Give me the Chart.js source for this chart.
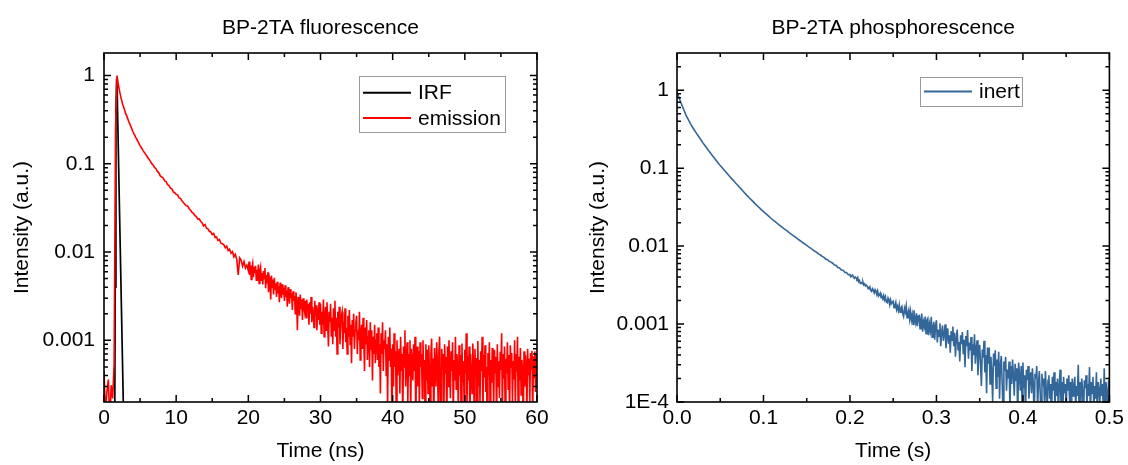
<!DOCTYPE html>
<html>
<head>
<meta charset="utf-8">
<script src="https://cdn.jsdelivr.net/npm/chart.js@4.4.1/dist/chart.umd.min.js"></script>
<style>
html,body{margin:0;padding:0;background:#fff;overflow:hidden;width:1128px;height:465px}
canvas{position:absolute;top:0}
#fluo{left:0}
#phos{left:564px}
</style>
</head>
<body>
<canvas id="fluo" width="564" height="465"></canvas>
<canvas id="phos" width="564" height="465"></canvas>
<script>
// ---------------- DATA ----------------
// Fluorescence decay "emission" (left panel).
// Part 1: 0 - 19.8 ns, one value per 0.2 ns channel
const emissionEarlyStart = 0, emissionEarlyWidth = 0.2;   // ns
const emissionEarly = [
  4.5e-4, 1.5e-4, 2.6e-4, 3.6e-4, 1.2e-4, 3.1e-4, 2.2e-4, 5.3e-4, 0.25, 1.0,            // 0.0
  0.78, 0.64, 0.54, 0.47, 0.42, 0.37, 0.34, 0.305, 0.28, 0.255,                          // 2.0
  0.232, 0.215, 0.199, 0.186, 0.173, 0.161, 0.151, 0.142, 0.134, 0.127,                  // 4.0
  0.120, 0.113, 0.108, 0.101, 0.097, 0.091, 0.088, 0.082, 0.079, 0.073,                  // 6.0
  0.071, 0.069, 0.064, 0.063, 0.058, 0.057, 0.053, 0.052, 0.048, 0.047,                  // 8.0
  0.045, 0.0445, 0.041, 0.0405, 0.038, 0.0365, 0.0348, 0.0335, 0.0332, 0.031,            // 10
  0.0298, 0.0282, 0.0275, 0.0259, 0.0252, 0.0236, 0.0238, 0.0222, 0.0214, 0.0198,        // 12
  0.0205, 0.0186, 0.0183, 0.0172, 0.0169, 0.0158, 0.0162, 0.0146, 0.0148, 0.0135,        // 14
  0.0139, 0.0126, 0.0124, 0.0121, 0.0112, 0.0117, 0.0104, 0.0108, 0.0097, 0.0101,        // 16
  0.0088, 0.0094, 0.0082, 0.0055, 0.0086, 0.0081, 0.0069, 0.0078, 0.0066, 0.0071         // 18
];
// Part 2: 20 - 60 ns, one value per 0.1 ns channel
const emissionLateStart = 20, emissionLateWidth = 0.1;    // ns
const emissionLate = [
  0.0062, 0.0078, 0.0055, 0.0071, 0.0049, 0.0066, 0.0074, 0.0052, 0.0068, 0.0058,              // 20
  0.0070, 0.0048, 0.0063, 0.0055, 0.0072, 0.0044, 0.0060, 0.0067, 0.0047, 0.0058,              // 21
  0.0043, 0.0061, 0.0050, 0.0066, 0.0039, 0.0055, 0.0045, 0.0059, 0.0035, 0.0052,              // 22
  0.0047, 0.0029, 0.0054, 0.0040, 0.0049, 0.0033, 0.0051, 0.0038, 0.0044, 0.0031,              // 23
  0.0046, 0.0034, 0.0041, 0.0027, 0.0045, 0.0036, 0.0030, 0.0043, 0.0033, 0.0039,              // 24
  0.0028, 0.0042, 0.0031, 0.0037, 0.0024, 0.0040, 0.0033, 0.0026, 0.0038, 0.0030,              // 25
  0.0034, 0.0022, 0.0036, 0.0028, 0.0032, 0.0020, 0.0035, 0.0026, 0.0013, 0.0031,              // 26
  0.0027, 0.0019, 0.0033, 0.0023, 0.0029, 0.0017, 0.0030, 0.0024, 0.0021, 0.0028,              // 27
  0.0018, 0.0029, 0.0022, 0.0026, 0.0015, 0.0027, 0.0020, 0.0031, 0.0016, 0.0024,              // 28
  0.0021, 0.0014, 0.0028, 0.0019, 0.0025, 0.0013, 0.0023, 0.0017, 0.0027, 0.0015,              // 29
  0.0026, 0.0012, 0.0021, 0.0015, 0.0029, 0.0011, 0.0019, 0.0024, 0.0013, 0.0027,              // 30
  0.0015, 0.00085, 0.0021, 0.0016, 0.0026, 0.0011, 0.0018, 0.0009, 0.0023, 0.0013,             // 31
  0.0028, 0.0011, 0.0018, 0.0007, 0.0021, 0.0014, 0.0024, 0.0009, 0.0015, 0.0019,              // 32
  0.0021, 0.0008, 0.0016, 0.0012, 0.0023, 0.00095, 0.0014, 0.0007, 0.0019, 0.0011,             // 33
  0.0022, 0.0009, 0.0015, 0.00055, 0.0017, 0.0011, 0.0020, 0.0008, 0.0013, 0.0016,             // 34
  0.0019, 0.0007, 0.0013, 0.0010, 0.0021, 0.0006, 0.0012, 0.0015, 0.0008, 0.0018,              // 35
  0.0010, 0.00045, 0.0014, 0.0009, 0.0017, 0.0006, 0.0011, 0.0013, 0.0005, 0.0016,             // 36
  0.0008, 0.0013, 0.00035, 0.0011, 0.0007, 0.0015, 0.00055, 0.0010, 0.0012, 0.0006,            // 37
  0.0014, 0.0005, 0.0009, 0.00025, 0.0012, 0.0007, 0.0016, 0.00045, 0.0010, 0.0008,            // 38
  0.0013, 0.0004, 0.0009, 0.00018, 0.0011, 0.0006, 0.0014, 0.0005, 0.0008, 0.00012,            // 39
  0.0009, 0.0003, 0.0012, 0.0005, 0.00075, 0.00015, 0.001, 0.0004, 0.00065, 0.0008,            // 40
  0.00025, 0.0011, 0.00045, 0.0007, 0.00012, 0.00085, 0.0005, 0.0013, 0.0003, 0.0006,          // 41
  0.00095, 0.0002, 0.0007, 0.0004, 0.001, 0.00014, 0.0008, 0.00055, 0.00035, 0.0009,           // 42
  0.00045, 0.0011, 0.0001, 0.0006, 0.00085, 0.0003, 0.00075, 0.00018, 0.00095, 0.0005,         // 43
  0.0007, 0.00022, 0.001, 0.0004, 0.0006, 0.00011, 0.0009, 0.00035, 0.00078, 0.00025,          // 44
  0.00088, 0.00045, 0.00015, 0.0007, 0.00105, 0.0003, 0.00062, 0.0001, 0.00082, 0.0005,        // 45
  0.0003, 0.00095, 0.00055, 0.0002, 0.00072, 0.0011, 0.00038, 0.00013, 0.0008, 0.00048,        // 46
  0.0007, 0.00016, 0.0009, 0.00042, 0.00065, 0.0001, 0.00085, 0.0003, 0.001, 0.00052,          // 47
  0.00022, 0.00075, 0.00045, 0.00095, 0.00012, 0.0006, 0.00035, 0.0011, 0.00028, 0.0007,       // 48
  0.0005, 0.00015, 0.00088, 0.0004, 0.00068, 0.0001, 0.00092, 0.00033, 0.00058, 0.0002,        // 49
  0.00078, 0.00042, 0.0012, 0.00018, 0.00066, 0.00035, 0.00085, 0.0001, 0.0007, 0.00048,       // 50
  0.00025, 0.00092, 0.00055, 0.00014, 0.0008, 0.0004, 0.00063, 0.0001, 0.00098, 0.0003,        // 51
  0.0006, 0.0002, 0.00075, 0.00045, 0.0011, 0.00012, 0.00068, 0.00038, 0.00088, 0.00026,       // 52
  0.0005, 0.0001, 0.00072, 0.0004, 0.00095, 0.00016, 0.0006, 0.00033, 0.00082, 0.00048,        // 53
  0.00018, 0.00078, 0.00043, 0.00065, 0.0001, 0.0009, 0.0003, 0.00058, 0.00022, 0.00074,       // 54
  0.00046, 0.0012, 0.00015, 0.0007, 0.00037, 0.00085, 0.0001, 0.00062, 0.00042, 0.00095,       // 55
  0.00028, 0.00068, 0.00012, 0.00088, 0.0005, 0.00072, 0.0002, 0.00058, 0.00036, 0.001,        // 56
  0.00016, 0.0007, 0.00044, 0.0011, 0.00011, 0.00065, 0.00035, 0.00082, 0.00024, 0.0006,       // 57
  0.00045, 0.0001, 0.00075, 0.0003, 0.00068, 0.00052, 0.00014, 0.0008, 0.0004, 0.00062,        // 58
  0.0002, 0.00072, 0.00047, 0.00076, 0.00012, 0.00066, 0.00038, 0.00075, 0.00026, 0.0007,      // 59
  0.00055                                                                                    // 60
];
// Instrument response function (left panel)
const irfTime  = [1.45, 1.55, 1.65, 1.75, 1.80, 2.00, 2.20, 2.40, 2.60, 2.80];
const irfValue = [1e-5, 0.004, 0.35, 0.92, 0.85, 0.125, 0.018, 0.0027, 0.0004, 0.00006];

// Phosphorescence decay "inert" (right panel).
// Part 1: 0 - 0.198 s, one value per 2 ms channel
const inertEarlyStart = 0, inertEarlyWidth = 0.002;    // s
const inertEarly = [
  0.955, 0.822, 0.716, 0.631, 0.556, 0.490, 0.442, 0.400, 0.365, 0.335,                         // 0.00
  0.309, 0.285, 0.264, 0.245, 0.228, 0.211, 0.197, 0.184, 0.171, 0.160,                         // 0.02
  0.150, 0.140, 0.131, 0.123, 0.115, 0.108, 0.102, 0.0962, 0.0906, 0.0853,                      // 0.04
  0.0804, 0.0759, 0.0718, 0.0679, 0.0641, 0.0607, 0.0574, 0.0542, 0.0512, 0.0484,               // 0.06
  0.0457, 0.0434, 0.0411, 0.0391, 0.0372, 0.0353, 0.0336, 0.0320, 0.0305, 0.0290,               // 0.08
  0.0277, 0.0264, 0.0253, 0.0242, 0.0231, 0.0221, 0.0212, 0.0204, 0.0195, 0.0187,               // 0.10
  0.0180, 0.0173, 0.0166, 0.0160, 0.0154, 0.0148, 0.01426, 0.01371, 0.01321, 0.01271,           // 0.12
  0.01225, 0.01180, 0.01138, 0.01096, 0.01057, 0.01019, 0.00982, 0.00948, 0.00914, 0.00883,     // 0.14
  0.00851, 0.00826, 0.00789, 0.00770, 0.00733, 0.00718, 0.00684, 0.00669, 0.00636, 0.00623,     // 0.16
  0.00603, 0.00570, 0.00563, 0.00530, 0.00525, 0.00494, 0.00490, 0.00461, 0.00457, 0.00430      // 0.18
];
// Part 2: 0.2 - 0.5 s, one value per 1 ms channel
const inertLateStart = 0.2, inertLateWidth = 0.001;    // s
const inertLate = [
  0.00430, 0.00405, 0.00418, 0.00425, 0.00398, 0.00387, 0.00402, 0.00392, 0.00377, 0.00395,    // 0.20
  0.00350, 0.00362, 0.00333, 0.00340, 0.00329, 0.00346, 0.00318, 0.00327, 0.00309, 0.00316,    // 0.21
  0.00306, 0.00284, 0.00293, 0.00301, 0.00270, 0.00262, 0.00284, 0.00272, 0.00251, 0.00275,    // 0.22
  0.00258, 0.00239, 0.00265, 0.00228, 0.00235, 0.00249, 0.00218, 0.00226, 0.00210, 0.00232,    // 0.23
  0.00205, 0.00224, 0.00193, 0.00188, 0.00215, 0.00197, 0.00176, 0.00204, 0.00183, 0.00191,    // 0.24
  0.00196, 0.00162, 0.00172, 0.00190, 0.00153, 0.00168, 0.00149, 0.00176, 0.00142, 0.00160,    // 0.25
  0.00168, 0.00136, 0.00125, 0.00159, 0.00143, 0.00170, 0.00121, 0.00138, 0.00152, 0.00117,    // 0.26
  0.00145, 0.00112, 0.00131, 0.00099, 0.00150, 0.00120, 0.00104, 0.00137, 0.00094, 0.00126,    // 0.27
  0.00128, 0.00087, 0.00115, 0.00136, 0.00080, 0.00106, 0.00093, 0.00125, 0.00075, 0.00112,    // 0.28
  0.00118, 0.00072, 0.00099, 0.00083, 0.00124, 0.00068, 0.00090, 0.00107, 0.00063, 0.00095,    // 0.29
  0.00112, 0.00058, 0.00085, 0.00070, 0.00102, 0.00052, 0.00078, 0.00096, 0.00061, 0.00074,    // 0.30
  0.00099, 0.00049, 0.00067, 0.00088, 0.00056, 0.00072, 0.00043, 0.00081, 0.00062, 0.00093,    // 0.31
  0.00052, 0.00077, 0.00038, 0.00065, 0.00085, 0.00047, 0.00059, 0.00033, 0.00072, 0.00055,    // 0.32
  0.00079, 0.00041, 0.00063, 0.00028, 0.00070, 0.00052, 0.00084, 0.00036, 0.00058, 0.00046,    // 0.33
  0.00068, 0.00025, 0.00055, 0.00040, 0.00074, 0.00031, 0.00049, 0.00062, 0.00022, 0.00045,    // 0.34
  0.00054, 0.00030, 0.00016, 0.00047, 0.00037, 0.00061, 0.00024, 0.00040, 0.00013, 0.00050,    // 0.35
  0.00031, 0.00050, 0.00017, 0.00038, 0.00024, 0.00010, 0.00042, 0.00029, 0.00046, 0.00015,    // 0.36
  0.00035, 0.00021, 0.00044, 0.00011, 0.00030, 0.00039, 0.00018, 0.00007, 0.00033, 0.00025,    // 0.37
  0.00038, 0.00014, 0.00026, 0.00020, 0.00033, 0.00008, 0.00029, 0.00017, 0.00035, 0.00022,    // 0.38
  0.00012, 0.00031, 0.00019, 0.00027, 0.00006, 0.00032, 0.00023, 0.00014, 0.00029, 0.00010,    // 0.39
  0.00032, 0.00015, 0.00022, 0.00007, 0.00026, 0.00019, 0.00029, 0.00011, 0.00020, 0.00024,    // 0.40
  0.00013, 0.00027, 0.00017, 0.00005, 0.00023, 0.00020, 0.00029, 0.00008, 0.00018, 0.00025,    // 0.41
  0.00013, 0.00006, 0.00023, 0.00016, 0.00020, 0.00009, 0.00025, 0.00014, 0.00007, 0.00019,    // 0.42
  0.00022, 0.00011, 0.00017, 0.00005, 0.00021, 0.00014, 0.00024, 0.00008, 0.00018, 0.00012,    // 0.43
  0.00020, 0.00007, 0.00016, 0.00026, 0.00010, 0.00018, 0.00005, 0.00021, 0.00013, 0.00017,    // 0.44
  0.00008, 0.00020, 0.00014, 0.00022, 0.00010, 0.00018, 0.00006, 0.00020, 0.00012, 0.00016,    // 0.45
  0.00021, 0.00008, 0.00016, 0.00012, 0.00030, 0.00007, 0.00018, 0.00010, 0.00020, 0.00014,    // 0.46
  0.00005, 0.00019, 0.00015, 0.00022, 0.00009, 0.00017, 0.00012, 0.00028, 0.00007, 0.00018,    // 0.47
  0.00013, 0.00021, 0.00008, 0.00016, 0.00011, 0.00024, 0.00006, 0.00018, 0.00014, 0.00010,    // 0.48
  0.00020, 0.00012, 0.00017, 0.00007, 0.00027, 0.00009, 0.00018, 0.00014, 0.00005, 0.00019,    // 0.49
  0.00012                                                                                      // 0.50
];

// Tick values and labels
const fluoXTicks = [0, 10, 20, 30, 40, 50, 60];
const fluoXLabels = ['0', '10', '20', '30', '40', '50', '60'];
const fluoYTicks = [0.001, 0.01, 0.1, 1];
const fluoYLabels = ['0.001', '0.01', '0.1', '1'];
const phosXTicks = [0, 0.1, 0.2, 0.3, 0.4, 0.5];
const phosXLabels = ['0.0', '0.1', '0.2', '0.3', '0.4', '0.5'];
const phosYTicks = [0.0001, 0.001, 0.01, 0.1, 1];
const phosYLabels = ['1E-4', '0.001', '0.01', '0.1', '1'];

// ---------------- CHARTS ----------------
const FONT = 'Liberation Sans, Arial, Helvetica, sans-serif';
const font21 = {family: FONT, size: 21, weight: 'normal'};

const channelPoints = (vals, start, width) =>
  vals.map((v, i) => ({x: +(start + i * width).toFixed(6), y: v}));
const pairPoints = (xs, ys) => xs.map((x, i) => ({x, y: ys[i]}));

// Frame + inward major/minor ticks on all four sides
const framePlugin = {
  id: 'originFrame',
  afterDatasetsDraw(chart) {
    const {ctx, chartArea: a, scales: {x, y}} = chart;
    ctx.save();
    ctx.strokeStyle = '#000';
    ctx.lineWidth = 1.5;
    const majLen = 7, minLen = 4;
    const xMajor = x.ticks.map(t => t.value);
    const xMinor = [];
    for (let i = 0; i < xMajor.length - 1; i++) xMinor.push((xMajor[i] + xMajor[i + 1]) / 2);
    const yMajor = y.ticks.map(t => t.value);
    const yMinor = [];
    for (let d = Math.floor(Math.log10(y.min)); d <= Math.ceil(Math.log10(y.max)); d++) {
      for (let k = 2; k <= 9; k++) {
        const v = k * Math.pow(10, d);
        if (v > y.min && v < y.max) yMinor.push(v);
      }
    }
    ctx.beginPath();
    const vx = (v, len) => {
      const p = x.getPixelForValue(v);
      ctx.moveTo(p, a.bottom); ctx.lineTo(p, a.bottom - len);
      ctx.moveTo(p, a.top); ctx.lineTo(p, a.top + len);
    };
    const hy = (v, len) => {
      const p = y.getPixelForValue(v);
      ctx.moveTo(a.left, p); ctx.lineTo(a.left + len, p);
      ctx.moveTo(a.right, p); ctx.lineTo(a.right - len, p);
    };
    xMajor.forEach(v => vx(v, majLen));
    xMinor.forEach(v => vx(v, minLen));
    yMajor.forEach(v => hy(v, majLen));
    yMinor.forEach(v => hy(v, minLen));
    ctx.stroke();
    ctx.lineWidth = 1.6;
    ctx.strokeRect(a.left, a.top, a.right - a.left, a.bottom - a.top);
    ctx.restore();
  }
};

// Boxed legend drawn from the chart's datasets
const boxLegendPlugin = {
  id: 'boxLegend',
  afterDraw(chart, args, opts) {
    const {ctx} = chart;
    const b = opts.box;
    ctx.save();
    ctx.fillStyle = '#fff';
    ctx.fillRect(b.x, b.y, b.w, b.h);
    ctx.strokeStyle = '#9a9a9a';
    ctx.lineWidth = 1;
    ctx.strokeRect(b.x + 0.5, b.y + 0.5, b.w, b.h);
    ctx.font = '21px ' + FONT;
    ctx.textBaseline = 'middle';
    ctx.textAlign = 'left';
    opts.order.forEach((di, row) => {
      const ds = chart.data.datasets[di];
      const cy = b.y + opts.firstRow + row * opts.rowStep;
      ctx.strokeStyle = ds.borderColor;
      ctx.lineWidth = 2;
      ctx.beginPath();
      ctx.moveTo(b.x + 4, cy);
      ctx.lineTo(b.x + 52, cy);
      ctx.stroke();
      ctx.fillStyle = '#000';
      ctx.fillText(ds.label, b.x + 59, cy + 1);
    });
    ctx.restore();
  }
};

function makeOptions(cfg) {
  return {
    responsive: false,
    animation: false,
    devicePixelRatio: 1,
    parsing: false,
    normalized: true,
    layout: {padding: {left: 0, right: cfg.padRight, top: 0, bottom: 0}},
    plugins: {
      legend: {display: false},
      tooltip: {enabled: false},
      title: {
        display: true, text: cfg.title, fullSize: false, color: '#000',
        font: font21, padding: {top: 15.4, bottom: 12.4}
      },
      boxLegend: cfg.legend
    },
    scales: {
      x: {
        type: 'linear', min: cfg.xMin, max: cfg.xMax,
        afterBuildTicks: s => { s.ticks = cfg.xTicks.map(v => ({value: v})); },
        afterFit: s => { s.height = 63; },
        grid: {display: false, drawTicks: false},
        border: {display: false},
        ticks: {
          color: '#000', font: font21, padding: 4, maxRotation: 0, autoSkip: false,
          callback: (v, i) => cfg.xLabels[i]
        },
        title: {display: true, text: cfg.xTitle, color: '#000', font: font21, padding: {top: 0, bottom: 1}}
      },
      y: {
        type: 'logarithmic', min: cfg.yMin, max: cfg.yMax,
        afterBuildTicks: s => { s.ticks = cfg.yTicks.map(v => ({value: v})); },
        afterFit: s => { s.width = cfg.yWidth; },
        grid: {display: false, drawTicks: false},
        border: {display: false},
        ticks: {
          color: '#000', font: font21, padding: cfg.yPad, autoSkip: false,
          callback: (v, i) => cfg.yLabels[i]
        },
        title: {display: true, text: 'Intensity (a.u.)', color: '#000', font: font21, padding: {top: cfg.yTitlePad, bottom: 0}}
      }
    }
  };
}

new Chart(document.getElementById('fluo'), {
  type: 'line',
  data: {
    datasets: [
      {label: 'IRF', data: pairPoints(irfTime, irfValue), borderColor: '#000000',
       borderWidth: 1.7, pointRadius: 0, tension: 0, fill: false, order: 1},
      {label: 'emission',
       data: channelPoints(emissionEarly, emissionEarlyStart, emissionEarlyWidth)
               .concat(channelPoints(emissionLate, emissionLateStart, emissionLateWidth)),
       borderColor: '#ff0000', borderWidth: 1.6, pointRadius: 0, tension: 0, fill: false, order: 0}
    ]
  },
  options: makeOptions({
    title: 'BP-2TA fluorescence', padRight: 27,
    xMin: 0, xMax: 60, xTicks: fluoXTicks, xLabels: fluoXLabels, xTitle: 'Time (ns)',
    yMin: 2e-4, yMax: 1.8, yTicks: fluoYTicks, yLabels: fluoYLabels,
    yWidth: 104, yPad: 9, yTitlePad: 10,
    legend: {box: {x: 359, y: 76, w: 146, h: 56}, firstRow: 16.7, rowStep: 25.3, order: [0, 1]}
  }),
  plugins: [framePlugin, boxLegendPlugin]
});

new Chart(document.getElementById('phos'), {
  type: 'line',
  data: {
    datasets: [
      {label: 'inert',
       data: channelPoints(inertEarly, inertEarlyStart, inertEarlyWidth)
               .concat(channelPoints(inertLate, inertLateStart, inertLateWidth)),
       borderColor: '#336699', borderWidth: 1.6, pointRadius: 0, tension: 0, fill: false}
    ]
  },
  options: makeOptions({
    title: 'BP-2TA phosphorescence', padRight: 16,
    xMin: 0, xMax: 0.5, xTicks: phosXTicks, xLabels: phosXLabels, xTitle: 'Time (s)',
    yMin: 1e-4, yMax: 3, yTicks: phosYTicks, yLabels: phosYLabels,
    yWidth: 113, yPad: 8, yTitlePad: 21.4,
    legend: {box: {x: 356, y: 77, w: 102, h: 29}, firstRow: 14.5, rowStep: 25.3, order: [0]}
  }),
  plugins: [framePlugin, boxLegendPlugin]
});
</script>
</body>
</html>
